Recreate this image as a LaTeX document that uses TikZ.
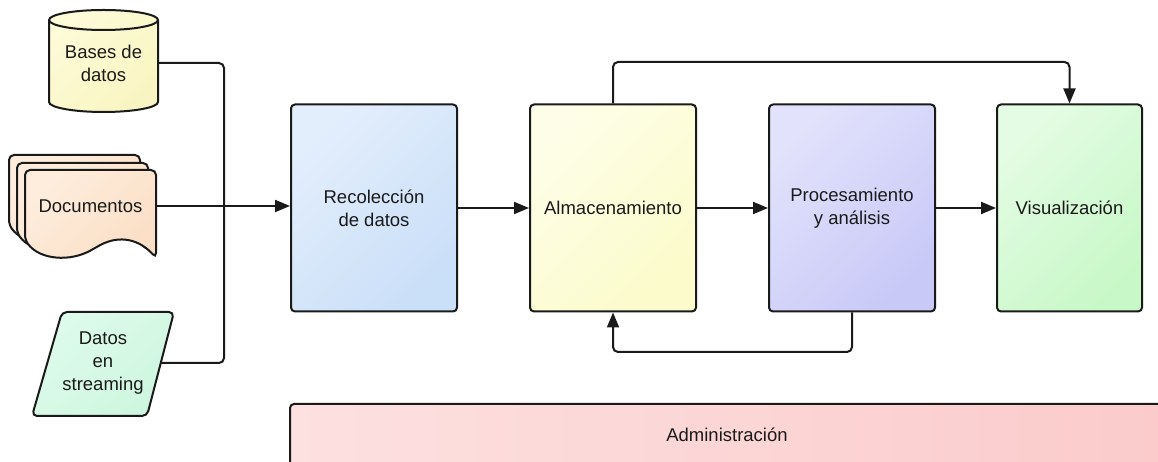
\documentclass[tikz,border=0pt]{standalone}
\usepackage{fontspec}
\setmainfont{Liberation Sans}
\usetikzlibrary{arrows.meta}

\definecolor{ink}{HTML}{1A1A1A}
\definecolor{recA}{HTML}{E3EEFC}\definecolor{recB}{HTML}{CADFF8}
\definecolor{almA}{HTML}{FEFEE8}\definecolor{almB}{HTML}{FBFBCB}
\definecolor{proA}{HTML}{E2E2FC}\definecolor{proB}{HTML}{C9C9F8}
\definecolor{visA}{HTML}{E4FCE4}\definecolor{visB}{HTML}{C8F8C8}
\definecolor{admA}{HTML}{FDE0E0}\definecolor{admB}{HTML}{FBCBCB}
\definecolor{dbA}{HTML}{FDFBD8}\definecolor{dbB}{HTML}{F9F5C2}
\definecolor{docA}{HTML}{FEEDDD}\definecolor{docB}{HTML}{FBDFC6}
\definecolor{stA}{HTML}{DEFBEC}\definecolor{stB}{HTML}{CEF6DE}

\newcommand\lblfont{\fontsize{18.5}{23}\selectfont}

% one sheet of the document stack, top-left corner at the shift point
\newcommand\docsheet[1]{%
  \path[sheet,shift={#1}] (0,-70) -- (0,0) -- (131,0) -- (131,-88)
    .. controls (115,-70) and (95,-64) .. (70,-78)
    .. controls (45,-92) and (15,-90) .. (0,-70) -- cycle;}

\begin{document}
\begin{tikzpicture}[x=1pt,y=1pt,
  grad/.style 2 args={left color=#1, right color=#2, shading angle=45},
  outline/.style={draw=ink, line width=2pt},
  stage/.style={outline, rounded corners=4pt, minimum width=166pt,
    minimum height=207pt, inner sep=0pt, align=center, text=ink, font=\lblfont},
  src/.style={inner sep=0pt, align=center, text=ink, font=\lblfont},
  sheet/.style={outline, rounded corners=5pt, grad={docA}{docB}},
  conn/.style={draw=ink, line width=2pt, rounded corners=5pt},
  flow/.style={conn, -{Triangle[length=15pt,width=12pt]}}]

\useasboundingbox (0,0) rectangle (1158,462);
\clip (0,0) rectangle (1158,462);
\fill[white] (0,0) rectangle (1158,462);

% database cylinder
\path[outline, grad={dbA}{dbB}]
  (49,442) -- (49,360) arc[start angle=180, end angle=360, x radius=54.5, y radius=10]
  -- (158,442) arc[start angle=0, end angle=180, x radius=54.5, y radius=10] -- cycle;
\draw[outline] (49,442) arc[start angle=180, end angle=360, x radius=54.5, y radius=10];
\node[src, minimum width=109pt] (db) at (103.5,399) {Bases de\\datos};

% stacked documents
\docsheet{(9,307)}
\docsheet{(17,299)}
\docsheet{(25,292)}
\node[src, minimum width=131pt] (docs) at (90.5,256) {Documentos};

% streaming input
\path[outline, rounded corners=5pt, grad={stA}{stB}]
  (62,150) -- (174,150) -- (147,46) -- (32,46) -- cycle;
\node[src, minimum width=116pt] (stream) at (103,99) {Datos\\en\\streaming};

% pipeline stages
\node[stage, grad={recA}{recB}] (rec) at (374,254) {Recolección\\de datos};
\node[stage, grad={almA}{almB}] (alm) at (613,254) {Almacenamiento};
\node[stage, grad={proA}{proB}] (proc) at (852,254) {Procesamiento\\y análisis};
\node[stage, minimum width=145pt, grad={visA}{visB}] (vis) at (1069.5,254) {Visualización};

% administration band
\node[stage, minimum width=874pt, minimum height=62pt, left color=admA, right color=admB]
  (admin) at (727,27) {Administración};

% connectors
\coordinate (merge) at (224,254);
\coordinate (top) at (0,400);
\coordinate (low) at (0,110);

\draw[conn] (db.east) -| (merge) |- (stream.east);
\draw[flow] (docs.east) -- (docs.east -| rec.west);
\draw[flow] (rec.east) -- (alm.west);
\draw[flow] (alm.east) -- (proc.west);
\draw[flow] (proc.east) -- (vis.west);
\draw[flow] (alm.north) -- (alm.north |- top) -- (vis.north |- top) -- (vis.north);
\draw[flow] (proc.south) -- (proc.south |- low) -- (alm.south |- low) -- (alm.south);
\end{tikzpicture}
\end{document}
